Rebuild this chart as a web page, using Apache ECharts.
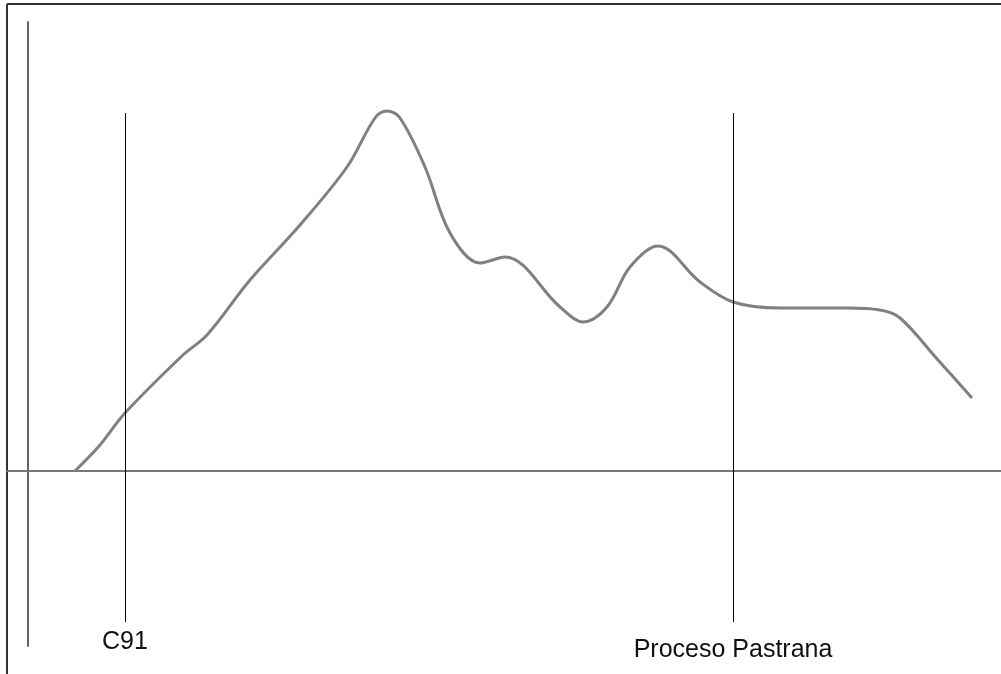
<!DOCTYPE html>
<html>
<head>
<meta charset="utf-8">
<script src="https://cdn.jsdelivr.net/npm/echarts@6/dist/echarts.min.js"></script>
<style>
html,body{margin:0;padding:0;background:#fff;}
#chart{width:1001px;height:674px;}
</style>
</head>
<body>
<div id="chart"></div>
<script>
// Curve values (x position, y value above baseline)
const curveX = [47, 72, 97, 155, 179, 222, 272, 319, 347, 359, 372, 397, 422, 452, 477, 532, 555, 579, 602, 630, 672, 705, 752, 819, 852, 872, 910, 944];
const curveY = [0, 26, 58, 116, 136, 191, 246, 304, 353, 360, 353, 304, 238, 208, 214, 164, 149, 164, 204, 225, 189, 169, 163, 163, 161, 153, 111, 73];
// Vertical markers
const markerNames = ["C91", "Proceso Pastrana"];
const markerX = [97, 705];
const markerTop = [358, 358];
const markerBottom = [-151, -151];
const markerLabelGap = [8, 16];

const chart = echarts.init(document.getElementById('chart'), null, {renderer: 'canvas'});

const markData = markerNames.map((name, i) => [
  {
    coord: [markerX[i], markerBottom[i]],
    label: {
      show: true,
      formatter: name,
      position: 'start',
      distance: markerLabelGap[i],
      color: '#111',
      fontSize: 25,
      fontFamily: 'Liberation Sans, Arial, Helvetica, sans-serif'
    }
  },
  { coord: [markerX[i], markerTop[i]] }
]);

const option = {
  animation: false,
  backgroundColor: '#fff',
  grid: { left: 7, right: 0, top: 22, bottom: 28, containLabel: false },
  xAxis: {
    type: 'value', min: -21, max: 973,
    axisLine: { show: true, onZero: true, lineStyle: { color: '#777', width: 2 } },
    axisTick: { show: false }, axisLabel: { show: false }, splitLine: { show: false }
  },
  yAxis: {
    type: 'value', min: -175, max: 449,
    axisLine: { show: true, onZero: true, lineStyle: { color: '#666', width: 2 } },
    axisTick: { show: false }, axisLabel: { show: false }, splitLine: { show: false }
  },
  graphic: [
    { type: 'line', shape: { x1: 7, y1: 4, x2: 1001, y2: 4 }, style: { stroke: '#333', lineWidth: 2 } },
    { type: 'line', shape: { x1: 7, y1: 4, x2: 7, y2: 674 }, style: { stroke: '#333', lineWidth: 2 } }
  ],
  series: [{
    type: 'line',
    data: curveX.map((x, i) => [x, curveY[i]]),
    smooth: 0.35,
    showSymbol: false,
    lineStyle: { color: '#808080', width: 3 },
    markLine: {
      silent: true,
      symbol: ['none', 'none'],
      lineStyle: { color: '#000', width: 1, type: 'solid' },
      data: markData
    }
  }]
};
chart.setOption(option);
</script>
</body>
</html>
